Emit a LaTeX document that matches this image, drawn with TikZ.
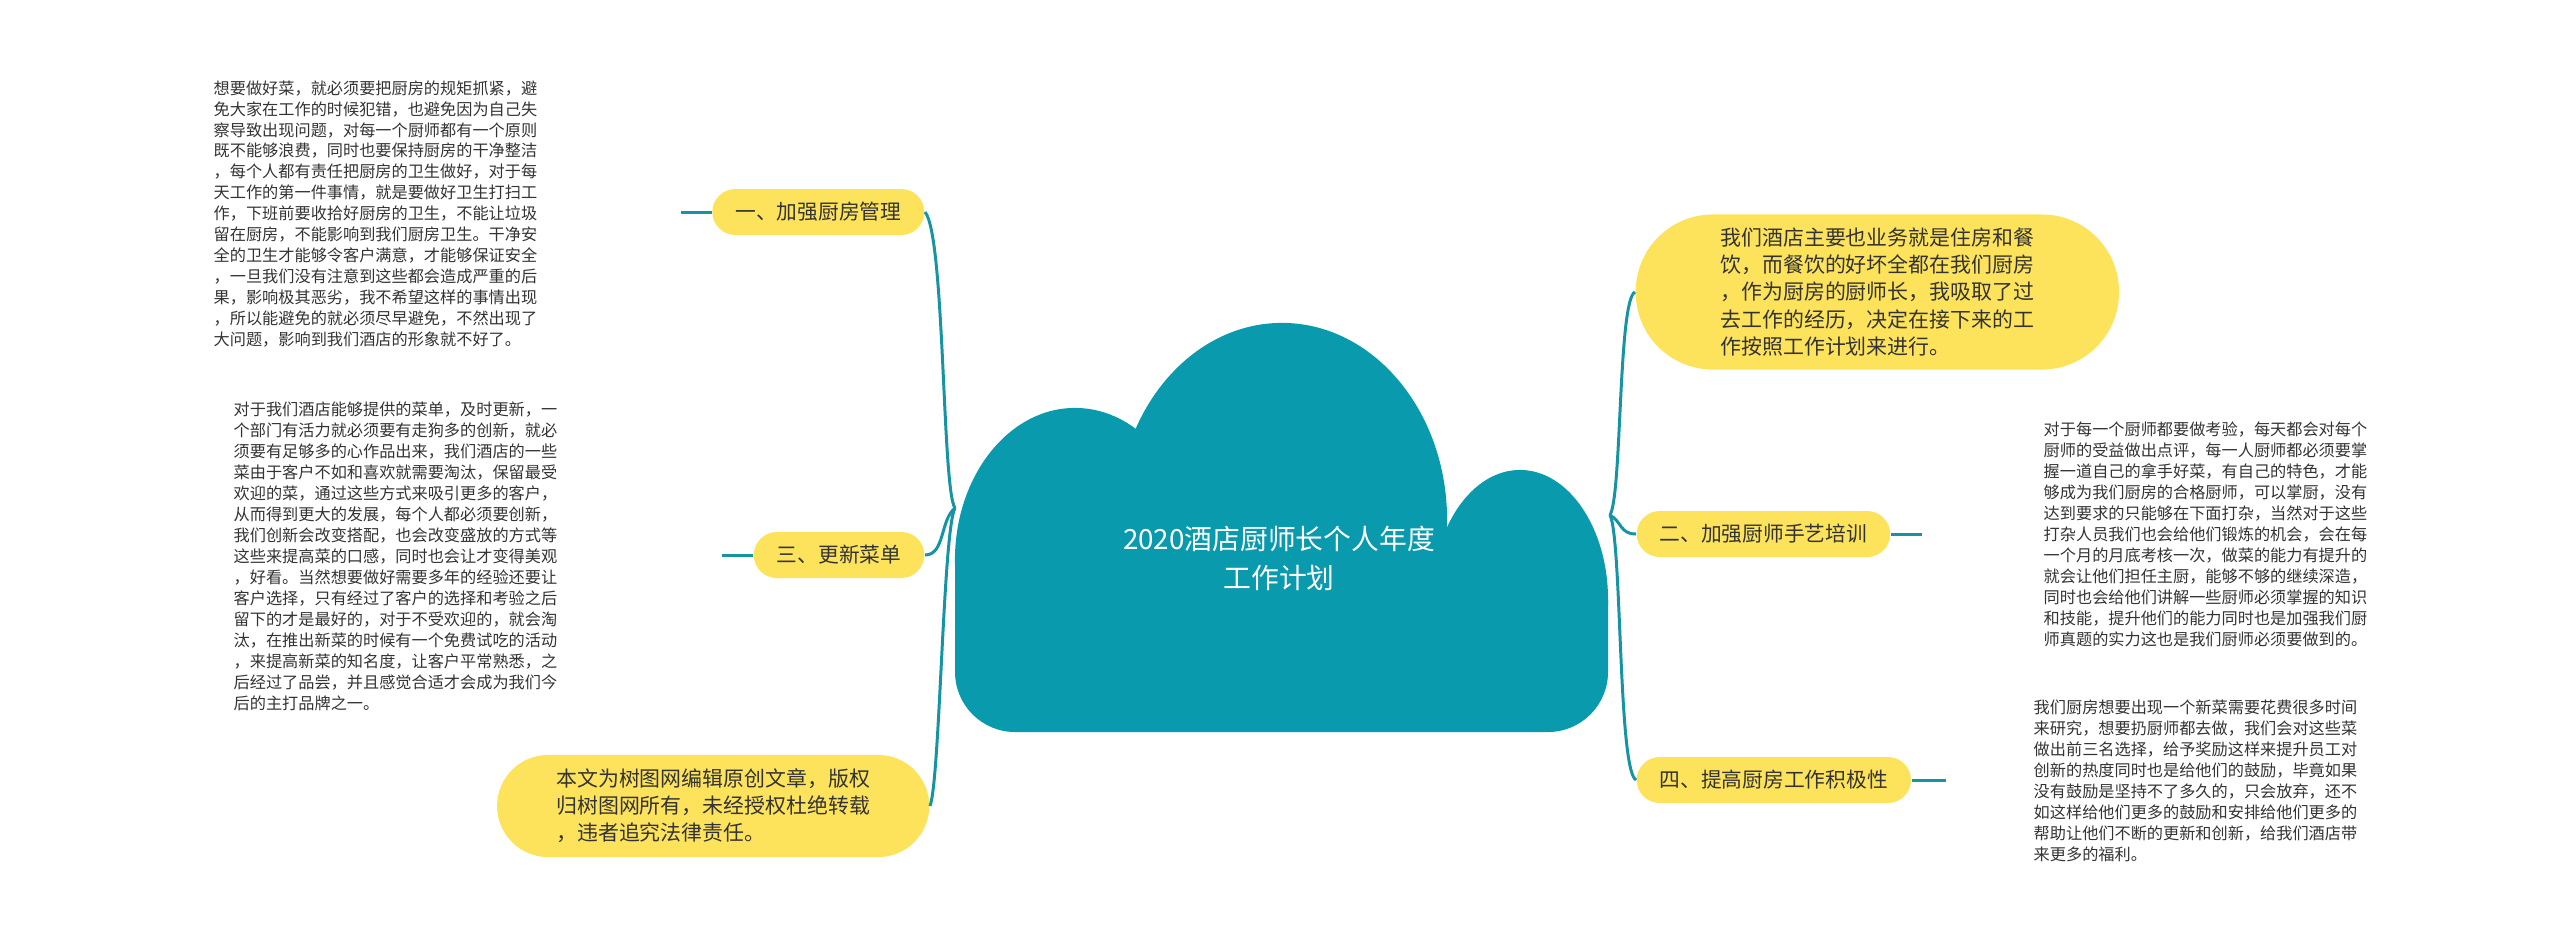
\documentclass[tikz,border=0pt]{standalone}
\usepackage{fontspec}
\setmainfont{Noto Sans CJK SC}
\usetikzlibrary{positioning}
\definecolor{cloudteal}{RGB}{9,154,174}
\definecolor{linkteal}{RGB}{22,148,163}
\definecolor{bubble}{RGB}{253,227,92}
\definecolor{inkgray}{RGB}{51,51,51}
\tikzset{
  topic/.style={fill=bubble, rounded corners=0.23cm, minimum height=0.46cm,
    inner xsep=0.23cm, inner ysep=0pt, text=inkgray, font=\fontsize{5.9}{7}\selectfont},
  pill/.style={fill=bubble, inner sep=0pt, align=left, text=inkgray,
    font=\fontsize{5.95}{7.7}\selectfont},
  memo/.style={inner sep=0pt, align=left, text=inkgray, font=\fontsize{4.6}{5.97}\selectfont},
  link/.style={draw=linkteal, line width=0.85pt},
}
\begin{document}
\begin{tikzpicture}[x=0.01cm, y=-0.01cm]
\useasboundingbox (0,0) rectangle (2560,941);

% cloud
\fill[cloudteal] (1282,520) ellipse [x radius=1.65cm, y radius=1.97cm];
\fill[cloudteal] (1075,560) ellipse [x radius=1.2cm, y radius=1.52cm];
\fill[cloudteal] (1520,600) ellipse [x radius=0.88cm, y radius=1.3cm];
\fill[cloudteal] (955,560) [rounded corners=0.6cm] -- (955,732) -- (1608,732) [sharp corners] -- (1608,600) -- (1500,540) -- cycle;
\node[text=white, align=center, font=\fontsize{7.9}{11.1}\selectfont] (root) at (1279,558) {2020酒店厨师长个人年度\\工作计划};
\coordinate (lj) at (955,508);
\coordinate (rj) at (1610,515);

% left side
\node[topic, anchor=east] (b1) at (925,212) {一、加强厨房管理};
\node[topic, anchor=east] (b3) at (925,555) {三、更新菜单};
\node[pill, anchor=east, minimum width=4.32cm, minimum height=1.02cm, rounded corners=0.51cm] (note) at (930,806)
  {本文为树图网编辑原创文章，版权\\归树图网所有，未经授权杜绝转载\\，违者追究法律责任。};

\node[memo, anchor=west] (m1) at (213,214) {想要做好菜，就必须要把厨房的规矩抓紧，避\\免大家在工作的时候犯错，也避免因为自己失\\察导致出现问题，对每一个厨师都有一个原则\\既不能够浪费，同时也要保持厨房的干净整洁\\，每个人都有责任把厨房的卫生做好，对于每\\天工作的第一件事情，就是要做好卫生打扫工\\作，下班前要收拾好厨房的卫生，不能让垃圾\\留在厨房，不能影响到我们厨房卫生。干净安\\全的卫生才能够令客户满意，才能够保证安全\\，一旦我们没有注意到这些都会造成严重的后\\果，影响极其恶劣，我不希望这样的事情出现\\，所以能避免的就必须尽早避免，不然出现了\\大问题，影响到我们酒店的形象就不好了。};
\node[memo, anchor=west] (m3) at (233,556) {对于我们酒店能够提供的菜单，及时更新，一\\个部门有活力就必须要有走狗多的创新，就必\\须要有足够多的心作品出来，我们酒店的一些\\菜由于客户不如和喜欢就需要淘汰，保留最受\\欢迎的菜，通过这些方式来吸引更多的客户，\\从而得到更大的发展，每个人都必须要创新，\\我们创新会改变搭配，也会改变盛放的方式等\\这些来提高菜的口感，同时也会让才变得美观\\，好看。当然想要做好需要多年的经验还要让\\客户选择，只有经过了客户的选择和考验之后\\留下的才是最好的，对于不受欢迎的，就会淘\\汰，在推出新菜的时候有一个免费试吃的活动\\，来提高新菜的知名度，让客户平常熟悉，之\\后经过了品尝，并且感觉合适才会成为我们今\\后的主打品牌之一。};

\draw[link] (lj) .. controls (942,490) and (945,235) .. (b1.east);
\draw[link] (lj) .. controls (940,520) and (945,555) .. (b3.east);
\draw[link] (lj) .. controls (943,530) and (940,780) .. (note.east);
\draw[link] (b1.west) -- ++(-31,0);
\draw[link] (b3.west) -- ++(-31,0);

% right side
\node[pill, anchor=west, minimum width=4.83cm, minimum height=1.55cm, rounded corners=0.77cm] (q) at (1635,292)
  {我们酒店主要也业务就是住房和餐\\饮，而餐饮的好坏全都在我们厨房\\，作为厨房的厨师长，我吸取了过\\去工作的经历，决定在接下来的工\\作按照工作计划来进行。};
\node[topic, anchor=west] (b2) at (1636,534) {二、加强厨师手艺培训};
\node[topic, anchor=west] (b4) at (1636,780) {四、提高厨房工作积极性};

\node[memo, anchor=west] (m2) at (2043,534) {对于每一个厨师都要做考验，每天都会对每个\\厨师的受益做出点评，每一人厨师都必须要掌\\握一道自己的拿手好菜，有自己的特色，才能\\够成为我们厨房的合格厨师，可以掌厨，没有\\达到要求的只能够在下面打杂，当然对于这些\\打杂人员我们也会给他们锻炼的机会，会在每\\一个月的月底考核一次，做菜的能力有提升的\\就会让他们担任主厨，能够不够的继续深造，\\同时也会给他们讲解一些厨师必须掌握的知识\\和技能，提升他们的能力同时也是加强我们厨\\师真题的实力这也是我们厨师必须要做到的。};
\node[memo, anchor=west] (m4) at (2033,781) {我们厨房想要出现一个新菜需要花费很多时间\\来研究，想要扔厨师都去做，我们会对这些菜\\做出前三名选择，给予奖励这样来提升员工对\\创新的热度同时也是给他们的鼓励，毕竟如果\\没有鼓励是坚持不了多久的，只会放弃，还不\\如这样给他们更多的鼓励和安排给他们更多的\\帮助让他们不断的更新和创新，给我们酒店带\\来更多的福利。};

\draw[link] (rj) .. controls (1622,495) and (1618,300) .. (q.west);
\draw[link] (rj) .. controls (1622,522) and (1620,534) .. (b2.west);
\draw[link] (rj) .. controls (1622,540) and (1618,770) .. (b4.west);
\draw[link] (b2.east) -- ++(31,0);
\draw[link] (b4.east) -- ++(34,0);
\end{tikzpicture}
\end{document}
